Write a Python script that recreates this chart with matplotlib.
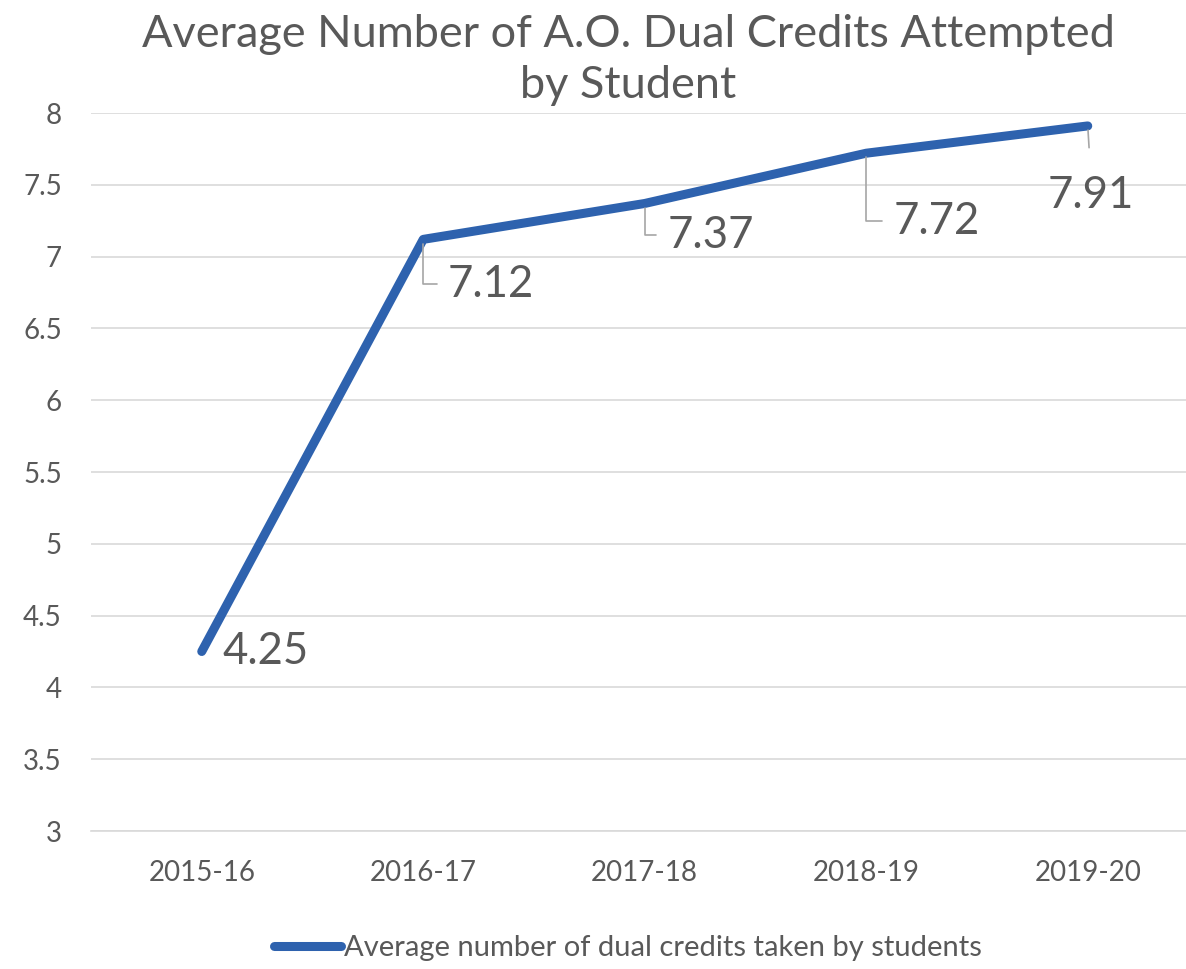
import matplotlib.pyplot as plt

# chart values
years = ["2015-16", "2016-17", "2017-18", "2018-19", "2019-20"]
avg_credits = [4.25, 7.12, 7.37, 7.72, 7.91]
y_ticks = [3, 3.5, 4, 4.5, 5, 5.5, 6, 6.5, 7, 7.5, 8]
y_tick_labels = ["3", "3.5", "4", "4.5", "5", "5.5", "6", "6.5", "7", "7.5", "8"]

title = "Average Number of A.O. Dual Credits Attempted\nby Student"
series_name = "Average number of dual credits taken by students"

# label offsets in pixels (dx, dy) and leader style
label_offsets = [(64, 0), (68, -45), (66, -32), (70, -68), (3, -70)]
leader_kind = [None, "elbow", "elbow", "elbow", "straight"]

plt.rcParams['font.family'] = ['Lato', 'DejaVu Sans']
gray = "#595959"
blue = "#2E62AE"

fig = plt.figure(figsize=(11.86, 9.69), dpi=100)
W, H = 1186, 969
ax = fig.add_axes([91 / W, (H - 831) / H, 1107.5 / W, 718 / H])

x = list(range(len(years)))
ax.plot(x, avg_credits, color=blue, lw=6.5, solid_capstyle="round",
        solid_joinstyle="round", label=series_name, zorder=3)

ax.set_xlim(-0.5, len(years) - 0.5)
ax.set_ylim(3, 8)
ax.set_yticks(y_ticks)
ax.set_yticklabels(y_tick_labels)
ax.set_xticks(x)
ax.set_xticklabels(years)
ax.tick_params(axis="y", length=0, pad=21, labelsize=20, labelcolor=gray)
ax.tick_params(axis="x", length=0, pad=21, labelsize=20, labelcolor=gray)
ax.grid(axis="y", color="#D9D9D9", lw=1.2)
ax.set_axisbelow(True)
for s in ["top", "right", "left"]:
    ax.spines[s].set_visible(False)
ax.spines["bottom"].set_color("#D9D9D9")
ax.spines["bottom"].set_linewidth(1.2)

for i, v in enumerate(avg_credits):
    dx, dy = label_offsets[i]
    kind = leader_kind[i]
    props = None
    if kind == "elbow":
        props = dict(arrowstyle="-", color="#A6A6A6", lw=1.2,
                     connectionstyle="angle,angleA=0,angleB=90,rad=0",
                     relpos=(0, 0.5), shrinkA=6, shrinkB=3)
    elif kind == "straight":
        props = dict(arrowstyle="-", color="#A6A6A6", lw=1.2,
                     relpos=(0.5, 1), shrinkA=18, shrinkB=3)
    ax.annotate(f"{v:.2f}", xy=(i, v), xytext=(dx, dy), textcoords="offset pixels",
                ha="center", va="center", fontsize=31.5, color=gray,
                arrowprops=props, zorder=4)

fig.text(628 / W, 1 - 60 / H, title, ha="center", va="center", fontsize=32.5,
         color=gray, linespacing=1.3)

leg = fig.legend(loc="center", bbox_to_anchor=(628 / W, 1 - 948 / H), frameon=False,
                 fontsize=21, handlelength=2.3, handletextpad=0.1)
for t in leg.get_texts():
    t.set_color(gray)

fig.savefig("out.png", dpi=100)
